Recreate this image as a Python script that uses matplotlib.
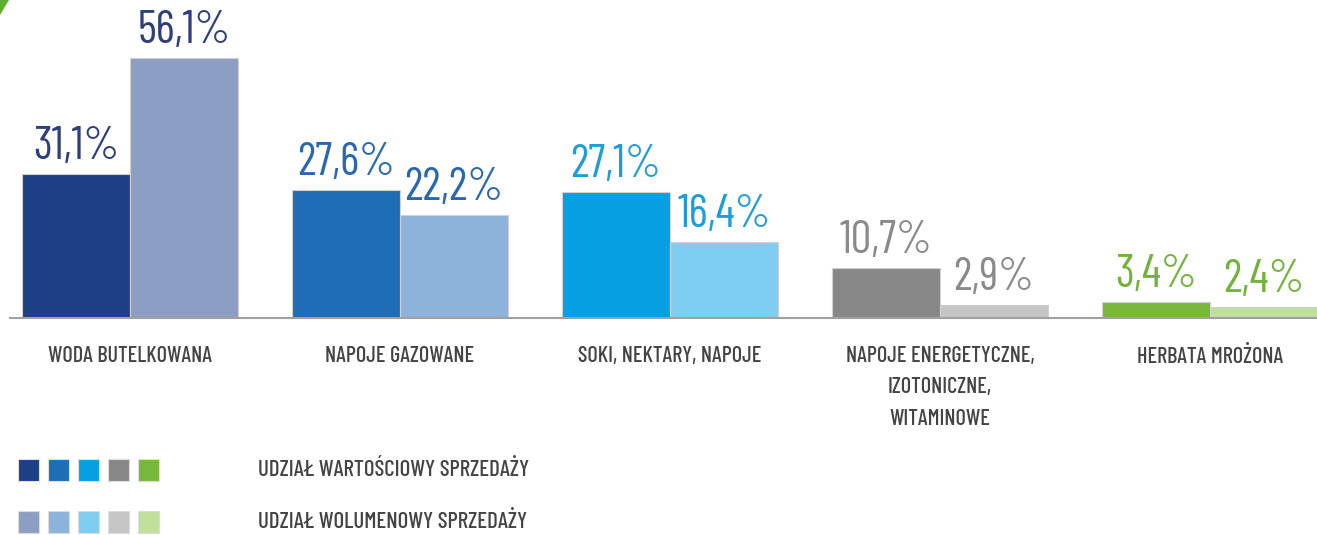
import matplotlib
matplotlib.use("Agg")
import matplotlib.pyplot as plt
import numpy as np
from matplotlib.patches import Rectangle, Polygon

# data
categories = [
    "WODA BUTELKOWANA",
    "NAPOJE GAZOWANE",
    "SOKI, NEKTARY, NAPOJE",
    "NAPOJE ENERGETYCZNE,\nIZOTONICZNE,\nWITAMINOWE",
    "HERBATA MROŻONA",
]
value_share = [31.1, 27.6, 27.1, 10.7, 3.4]
volume_share = [56.1, 22.2, 16.4, 2.9, 2.4]
series_labels = ["UDZIAŁ WARTOŚCIOWY SPRZEDAŻY", "UDZIAŁ WOLUMENOWY SPRZEDAŻY"]

dark_colors = ["#1d3f86", "#1f6db5", "#06a0e2", "#878787", "#77b83a"]
light_colors = ["#8d9ec5", "#8cb3da", "#7fcdf0", "#c6c6c6", "#c0e09c"]
text_colors = ["#2e3f7c", "#2a68ae", "#1d9ed8", "#8a8a8a", "#73b33c"]

plt.rcParams['font.family'] = ['Barlow Condensed', 'DejaVu Sans']

W, H = 1317, 535
fig = plt.figure(figsize=(W / 100, H / 100), dpi=100)

# main axes: left edge at 10px, baseline at 318px from top
px_per_pct = 4.64
spacing = 270.0
first_center = 130.0
left_px = 10
ax = fig.add_axes([left_px / W, (H - 318) / H, (W - left_px) / W, 318 / H])
ax.set_xlim((left_px - first_center) / spacing, (W - first_center) / spacing)
ax.set_ylim(0, 318 / px_per_pct)

x = np.arange(len(categories))
bw = 108 / spacing
ax.bar(x - bw / 2, value_share, width=bw, color=dark_colors,
       edgecolor="#d0d0d0", linewidth=0.8)
ax.bar(x + bw / 2, volume_share, width=bw, color=light_colors,
       edgecolor="#d0d0d0", linewidth=0.8)

for i in range(len(categories)):
    for xx, v in [(x[i] - bw / 2, value_share[i]), (x[i] + bw / 2, volume_share[i])]:
        ax.text(xx, v + 1.3, f"{v:.1f}%".replace(".", ","), ha="center", va="bottom",
                fontsize=33, color=text_colors[i])

for s in ["top", "left", "right"]:
    ax.spines[s].set_visible(False)
ax.spines["bottom"].set_color("#a0a0a0")
ax.spines["bottom"].set_linewidth(1.5)
ax.set_yticks([])
ax.set_xticks(x)
ax.set_xticklabels(categories, fontsize=16, color="#444444", fontweight="medium")
ax.tick_params(axis="x", length=0, pad=20)
for lbl in ax.get_xticklabels():
    lbl.set_linespacing(1.72)
ax.patch.set_alpha(0)

# legend drawn in pixel coordinates
lax = fig.add_axes([0, 0, 1, 1])
lax.set_xlim(0, W)
lax.set_ylim(H, 0)
lax.axis("off")
lax.patch.set_alpha(0)
rows_y = [459, 511]
for r, (cols, label) in enumerate(zip([dark_colors, light_colors], series_labels)):
    for j, c in enumerate(cols):
        lax.add_patch(Rectangle((18 + j * 30, rows_y[r]), 21, 22, facecolor=c,
                                edgecolor="#dddddd", linewidth=0.8))
    lax.text(258, rows_y[r] + 11, label, ha="left", va="center",
             fontsize=16.5, color="#444444", fontweight="medium")

# green corner mark
lax.add_patch(Polygon([[0, 0], [9, 0], [0, 15]], closed=True,
                      facecolor="#5fae2e", edgecolor="none"))

fig.savefig("out.png", dpi=100)
